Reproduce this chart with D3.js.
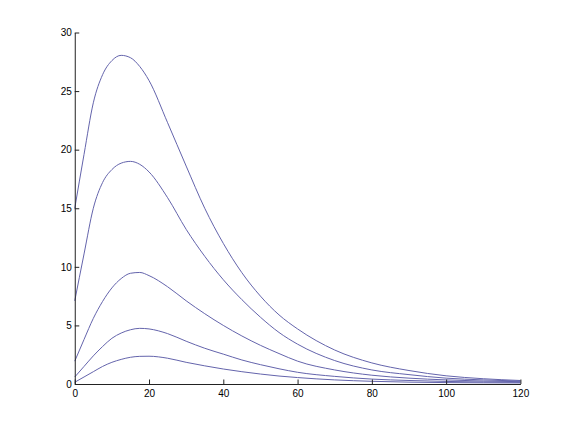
<!DOCTYPE html>
<html>
<head>
<meta charset="utf-8">
<script src="https://cdn.jsdelivr.net/npm/d3@7"></script>
<style>
  html, body { margin: 0; padding: 0; background: #fff; }
  svg { display: block; }
  .tick text { font-family: "Liberation Sans", Arial, sans-serif; font-size: 10px; fill: #000; }
</style>
</head>
<body>
<svg id="chart" width="575" height="432"></svg>
<script>
// ---- data ----
const xValues = [0, 2.5, 5, 7.5, 10, 12.5, 15, 17.5, 20, 25, 30, 35, 40, 45, 50, 55, 60, 70, 80, 90, 100, 110, 120];
const series1 = [15.0, 19.6, 24.0, 26.4, 27.6, 28.05, 27.85, 27.1, 25.9, 22.3, 18.6, 15.0, 12.0, 9.5, 7.5, 5.9, 4.7, 2.9, 1.8, 1.15, 0.7, 0.45, 0.3];
const series2 = [7.1, 11.1, 15.0, 17.2, 18.3, 18.85, 19.0, 18.75, 18.1, 15.9, 13.2, 10.9, 8.9, 7.2, 5.7, 4.4, 3.4, 2.0, 1.2, 0.8, 0.5, 0.35, 0.25];
const series3 = [1.95, 3.8, 5.6, 7.05, 8.2, 9.0, 9.45, 9.52, 9.25, 8.3, 7.1, 6.0, 5.0, 4.1, 3.3, 2.6, 1.95, 1.2, 0.75, 0.5, 0.35, 0.25, 0.2];
const series4 = [0.6, 1.5, 2.4, 3.2, 3.9, 4.35, 4.63, 4.75, 4.7, 4.3, 3.65, 3.05, 2.55, 2.05, 1.65, 1.3, 1.0, 0.65, 0.42, 0.3, 0.22, 0.17, 0.14];
const series5 = [0.15, 0.6, 1.05, 1.5, 1.85, 2.1, 2.28, 2.36, 2.37, 2.2, 1.85, 1.55, 1.28, 1.05, 0.85, 0.68, 0.55, 0.35, 0.23, 0.16, 0.12, 0.1, 0.09];
const allSeries = [series1, series2, series3, series4, series5];
const xTicks = [0, 20, 40, 60, 80, 100, 120];
const yTicks = [0, 5, 10, 15, 20, 25, 30];

// ---- layout ----
const svg = d3.select("#chart");
const padL = 74.75, padR = 520.4, padT = 32.5, padB = 384;
const x = d3.scaleLinear().domain([0, 120]).range([padL, padR]);
const y = d3.scaleLinear().domain([0, 30]).range([padB, padT]);

svg.append("rect").attr("width", 575).attr("height", 432).attr("fill", "#fff");

const line = d3.line()
  .x((d, i) => x(xValues[i]))
  .y(d => y(d))
  .curve(d3.curveMonotoneX);

svg.append("g").selectAll("path")
  .data(allSeries)
  .join("path")
  .attr("d", d => line(d))
  .attr("fill", "none")
  .attr("stroke", "#6464ac")
  .attr("stroke-width", 1);

// axes (MATLAB style: ticks inward)
const xAxis = d3.axisBottom(x).tickValues(xTicks).tickSizeInner(-4.5).tickSizeOuter(0).tickPadding(6)
  .tickFormat(d3.format("d"));
const yAxis = d3.axisLeft(y).tickValues(yTicks).tickSizeInner(-4.5).tickSizeOuter(0).tickPadding(3)
  .tickFormat(d3.format("d"));

const gx = svg.append("g").attr("transform", `translate(0,${padB})`).call(xAxis);
const gy = svg.append("g").attr("transform", `translate(${padL},0)`).call(yAxis);
[gx, gy].forEach(g => {
  g.select(".domain").attr("stroke", "#222").attr("stroke-width", 1);
  g.selectAll(".tick line").attr("stroke", "#222");
});
</script>
</body>
</html>
